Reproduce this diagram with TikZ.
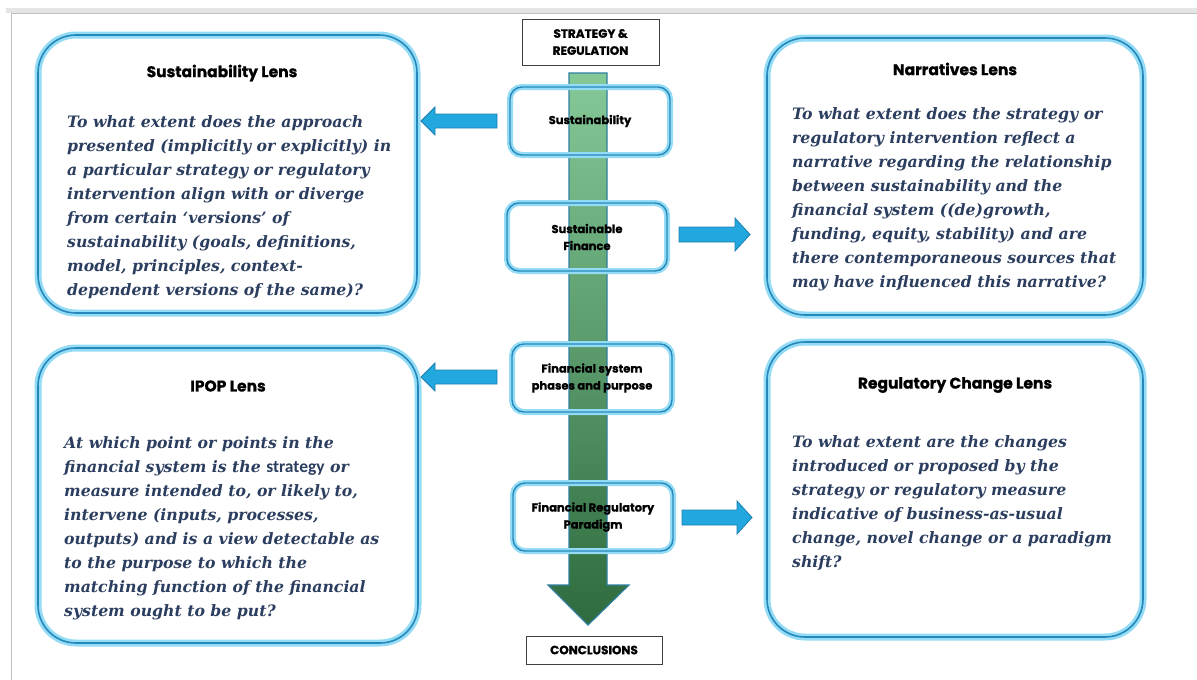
\documentclass[tikz,border=0pt]{standalone}
\usepackage{fontspec}
\setmainfont{DejaVu Serif}
\newfontfamily\headfont{Poppins}[BoldFeatures={FakeBold=1}]
\newfontfamily\bodyfont{DejaVu Serif}
\newfontfamily\upsans{Carlito}
\definecolor{edgec}{HTML}{2688BA}
\definecolor{glowc}{HTML}{94DCF5}
\definecolor{navy}{HTML}{2C3E5F}
\definecolor{arrfill}{HTML}{22A8DE}
\definecolor{arredge}{HTML}{1D7FAE}
\definecolor{shaftedge}{HTML}{2F7FA0}
\definecolor{gtop}{HTML}{86C998}
\definecolor{gbot}{HTML}{2E6B3E}
\tikzset{
  lens/.style={draw=edgec, line width=1.6pt, rounded corners=38pt, inner sep=0pt,
    preaction={draw=glowc, line width=7pt, rounded corners=38pt}},
  stage/.style={draw=edgec, line width=1.4pt, rounded corners=12pt, inner sep=0pt,
    minimum width=160pt, minimum height=68pt, align=center,
    font={\headfont\bfseries\fontsize{11.5}{17}\selectfont},
    preaction={draw=glowc, line width=6pt, rounded corners=12pt}},
  endbox/.style={draw=black!75, line width=0.9pt, fill=white, inner sep=0pt, align=center,
    font={\headfont\bfseries\fontsize{12}{17}\selectfont}},
  head/.style={font={\headfont\bfseries\fontsize{15.5}{18}\selectfont}, inner sep=0pt},
  body/.style={anchor=north west, inner sep=0pt, align=left, text=navy,
    font={\bodyfont\bfseries\itshape\fontsize{15.7}{24}\selectfont}},
  sidearrow/.style={fill=arrfill, draw=arredge, line width=0.8pt},
  bigarrow/.style={top color=gtop, bottom color=gbot, draw=shaftedge, line width=1.2pt}
}
\begin{document}
\begin{tikzpicture}[x=1pt,y=-1pt]
\useasboundingbox (0,0) rectangle (1197,680);
\fill[white] (0,0) rectangle (1197,680);
% frame of the screenshot
\fill[black!10] (6,8) rectangle (1197,13);
\draw[black!25, line width=1pt] (11,13) -- (11,680);
\draw[black!25, line width=0.8pt] (11,13.5) -- (1197,13.5);

% big vertical arrow
\draw[bigarrow] (569,73) -- (607,73) -- (607,585) -- (629,585) -- (588,625)
  -- (548,585) -- (569,585) -- cycle;

% lens boxes
\node[lens, minimum width=379pt, minimum height=278pt] (suslens) at (227.5,174) {};
\node[lens, minimum width=376pt, minimum height=277pt] (narlens) at (955,176.5) {};
\node[lens, minimum width=380pt, minimum height=295pt] (ipoplens) at (228,495.5) {};
\node[lens, minimum width=376pt, minimum height=295pt] (reglens) at (955,489.5) {};

\node[head] (sush) at (222,73) {Sustainability Lens};
\node[head] (narh) at (955,69) {Narratives Lens};
\node[head] (ipoph) at (228,386) {IPOP Lens};
\node[head] (regh) at (955,385) {Regulatory Change Lens};

\node[body] (sust) at (67,115) {To what extent does the approach\\
presented (implicitly or explicitly) in\\
a particular strategy or regulatory\\
intervention align with or diverge\\
from certain ‘versions’ of\\
sustainability (goals, definitions,\\
model, principles, context-\\
dependent versions of the same)?};

\node[body] (nart) at (792,107) {To what extent does the strategy or\\
regulatory intervention reflect a\\
narrative regarding the relationship\\
between sustainability and the\\
financial system ((de)growth,\\
funding, equity, stability) and are\\
there contemporaneous sources that\\
may have influenced this narrative?};

\node[body] (ipopt) at (64,436) {At which point or points in the\\
financial system is the {\upsans\upshape\bfseries\fontsize{17.5}{24}\selectfont strategy} or\\
measure intended to, or likely to,\\
intervene (inputs, processes,\\
outputs) and is a view detectable as\\
to the purpose to which the\\
matching function of the financial\\
system ought to be put?};

\node[body] (regt) at (792,435) {To what extent are the changes\\
introduced or proposed by the\\
strategy or regulatory measure\\
indicative of business-as-usual\\
change, novel change or a paradigm\\
shift?};

% stage boxes on the arrow
\node[stage] (s1) at (590,121) {Sustainability};
\node[stage] (s2) at (587,237) {Sustainable\\Finance};
\node[stage] (s3) at (592,378) {Financial system\\phases and purpose};
\node[stage] (s4) at (593,517) {Financial Regulatory\\Paradigm};

\node[endbox, minimum width=137pt, minimum height=46pt] (top) at (590.5,42) {STRATEGY \&\\REGULATION};
\node[endbox, minimum width=136pt, minimum height=28pt] (concl) at (594,650) {CONCLUSIONS};

% side block arrows
\draw[sidearrow] (497,114) -- (435,114) -- (435,107) -- (421,121) -- (435,135) -- (435,128) -- (497,128) -- cycle;
\draw[sidearrow] (679,227) -- (735,227) -- (735,218) -- (750,234.5) -- (735,251) -- (735,242) -- (679,242) -- cycle;
\draw[sidearrow] (497,370) -- (435,370) -- (435,363) -- (421,377) -- (435,391) -- (435,384) -- (497,384) -- cycle;
\draw[sidearrow] (682,510) -- (737,510) -- (737,501) -- (752,517.5) -- (737,534) -- (737,525) -- (682,525) -- cycle;
\end{tikzpicture}
\end{document}
